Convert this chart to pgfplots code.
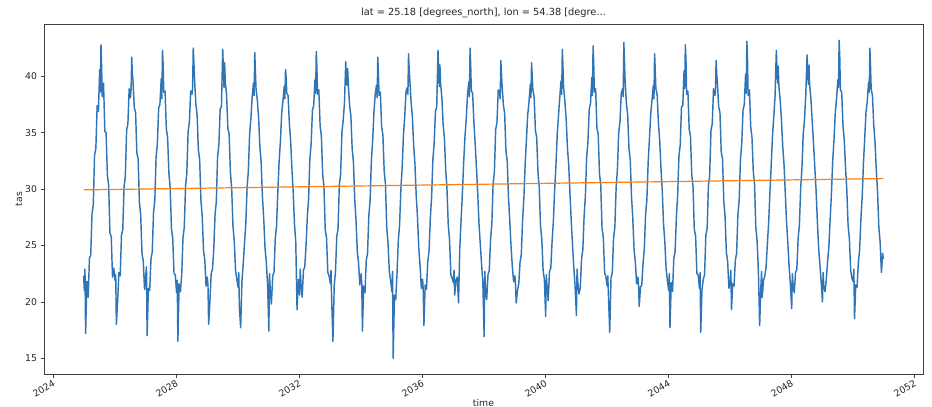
\documentclass[border=0pt]{standalone}
\usepackage{fontspec}
\setmainfont{DejaVu Sans}
\usepackage{pgfplots}
\pgfplotsset{compat=1.18}
\definecolor{mplblue}{HTML}{2F75B5}
\definecolor{mplorange}{HTML}{FF7F0E}
\begin{document}
\begin{tikzpicture}
\begin{axis}[
    scale only axis,
    width=879pt, height=350pt,
    xmin=2023.71, xmax=2052.29,
    ymin=13.6, ymax=44.64,
    xtick={2024,2028,...,2052},
    ytick={15,20,...,40},
    /pgf/number format/1000 sep={},
    /pgf/number format/assume math mode=true,
    tick pos=left, tick align=outside,
    major tick length=3.5pt,
    tick style={black!75, line width=0.6pt},
    axis line style={black!75, line width=0.6pt},
    ticklabel style={font=\fontsize{9.3}{11}\selectfont, black!85},
    xticklabel style={rotate=30, anchor=north east, inner sep=1.5pt},
    xlabel={time}, ylabel={tas},
    label style={font=\fontsize{9.3}{11}\selectfont, black!85},
    xlabel style={yshift=4pt},
    ylabel style={yshift=-4pt},
    title={lat = 25.18 [degrees\_north], lon = 54.38 [degre...},
    title style={font=\fontsize{9.8}{11}\selectfont, black!85, yshift=-3pt},
    clip=true,
]
\addplot[mplblue, line width=1.45pt, line join=round] coordinates {
(2025.000,22.3)(2025.021,21.0)(2025.042,22.9)(2025.063,17.2)(2025.104,21.8)(2025.146,20.4)(2025.188,23.9)(2025.229,24.1)(2025.271,27.8)(2025.313,28.6)(2025.354,33.0)(2025.396,33.6)(2025.438,37.4)(2025.479,36.9)(2025.521,40.6)(2025.542,38.6)(2025.563,42.8)(2025.583,40.9)(2025.604,38.2)(2025.646,39.4)(2025.688,35.1)(2025.729,35.0)(2025.771,31.2)(2025.813,30.3)(2025.854,26.1)(2025.896,25.8)(2025.938,22.2)(2025.979,23.0)
(2026.021,21.9)(2026.042,22.4)(2026.063,18.0)(2026.104,20.1)(2026.146,22.6)(2026.188,22.3)(2026.229,25.9)(2026.271,26.4)(2026.313,30.2)(2026.354,31.1)(2026.396,35.2)(2026.438,35.8)(2026.479,38.9)(2026.521,38.1)(2026.542,38.9)(2026.563,41.7)(2026.583,40.2)(2026.604,39.6)(2026.646,37.2)(2026.688,36.8)(2026.729,33.2)(2026.771,32.7)(2026.813,28.8)(2026.854,27.7)(2026.896,24.3)(2026.938,23.6)(2026.979,21.1)
(2027.021,22.4)(2027.042,23.1)(2027.063,17.0)(2027.104,21.2)(2027.146,21.0)(2027.188,23.8)(2027.229,24.4)(2027.271,27.9)(2027.313,29.0)(2027.354,32.8)(2027.396,34.0)(2027.438,37.2)(2027.479,37.5)(2027.521,39.8)(2027.542,38.0)(2027.563,42.3)(2027.583,41.1)(2027.604,38.6)(2027.646,38.7)(2027.688,35.3)(2027.729,34.6)(2027.771,31.4)(2027.813,30.1)(2027.854,26.5)(2027.896,25.6)(2027.938,22.5)(2027.979,22.4)
(2028.021,20.8)(2028.042,21.9)(2028.063,16.5)(2028.104,21.6)(2028.146,20.9)(2028.188,22.4)(2028.229,25.7)(2028.271,26.6)(2028.313,30.3)(2028.354,31.4)(2028.396,35.1)(2028.438,36.0)(2028.479,38.7)(2028.521,38.4)(2028.542,39.0)(2028.563,42.5)(2028.583,41.3)(2028.604,39.8)(2028.646,37.6)(2028.688,36.6)(2028.729,33.5)(2028.771,32.6)(2028.813,29.0)(2028.854,27.6)(2028.896,24.6)(2028.938,23.7)(2028.979,21.4)
(2029.021,22.2)(2029.042,21.4)(2029.063,18.0)(2029.104,20.0)(2029.146,22.5)(2029.188,22.9)(2029.229,24.6)(2029.271,27.7)(2029.313,28.9)(2029.354,32.9)(2029.396,33.9)(2029.438,37.1)(2029.479,37.3)(2029.521,42.4)(2029.542,40.6)(2029.563,39.0)(2029.583,41.2)(2029.604,39.5)(2029.646,38.4)(2029.688,35.4)(2029.729,34.9)(2029.771,31.5)(2029.813,30.0)(2029.854,26.7)(2029.896,25.4)(2029.938,22.8)(2029.979,22.0)
(2030.021,21.3)(2030.042,22.6)(2030.063,19.5)(2030.104,17.7)(2030.146,21.8)(2030.188,23.4)(2030.229,25.2)(2030.271,26.9)(2030.313,30.1)(2030.354,31.6)(2030.396,34.9)(2030.438,36.3)(2030.479,38.2)(2030.521,39.4)(2030.542,38.3)(2030.563,42.1)(2030.583,40.5)(2030.604,38.9)(2030.646,37.9)(2030.688,36.3)(2030.729,33.8)(2030.771,32.3)(2030.813,29.3)(2030.854,27.4)(2030.896,24.8)(2030.938,23.5)(2030.979,21.6)
(2031.021,17.4)(2031.042,22.5)(2031.063,21.2)(2031.104,19.8)(2031.146,22.3)(2031.188,22.6)(2031.229,25.6)(2031.271,26.7)(2031.313,29.8)(2031.354,32.4)(2031.396,34.2)(2031.438,36.7)(2031.479,37.8)(2031.521,39.1)(2031.542,38.0)(2031.563,40.6)(2031.583,39.9)(2031.604,38.5)(2031.646,38.3)(2031.688,35.8)(2031.729,34.3)(2031.771,31.8)(2031.813,29.7)(2031.854,26.9)(2031.896,25.3)(2031.938,19.3)(2031.979,22.0)
(2032.021,20.6)(2032.042,22.9)(2032.063,21.7)(2032.104,20.4)(2032.146,22.8)(2032.188,23.1)(2032.229,24.9)(2032.271,27.5)(2032.313,29.1)(2032.354,32.7)(2032.396,34.0)(2032.438,37.0)(2032.479,37.4)(2032.521,39.7)(2032.542,38.5)(2032.563,42.2)(2032.583,40.8)(2032.604,38.4)(2032.646,38.8)(2032.688,35.6)(2032.729,34.7)(2032.771,31.3)(2032.813,30.2)(2032.854,26.4)(2032.896,25.7)(2032.938,22.6)(2032.979,22.3)
(2033.021,21.6)(2033.042,22.8)(2033.063,20.2)(2033.104,16.5)(2033.146,21.4)(2033.188,22.7)(2033.229,25.8)(2033.271,26.5)(2033.313,30.4)(2033.354,31.3)(2033.396,35.0)(2033.438,36.1)(2033.479,37.6)(2033.521,41.3)(2033.542,39.6)(2033.563,39.2)(2033.583,40.7)(2033.604,39.3)(2033.646,37.4)(2033.688,36.5)(2033.729,33.6)(2033.771,32.4)(2033.813,29.1)(2033.854,27.3)(2033.896,24.5)(2033.938,23.4)(2033.979,21.5)
(2034.021,22.5)(2034.042,21.6)(2034.063,17.4)(2034.104,21.4)(2034.146,20.8)(2034.188,23.7)(2034.229,24.3)(2034.271,27.6)(2034.313,29.0)(2034.354,32.5)(2034.396,34.3)(2034.438,36.8)(2034.479,38.4)(2034.521,39.2)(2034.542,38.1)(2034.563,41.7)(2034.583,40.3)(2034.604,38.3)(2034.646,38.6)(2034.688,35.5)(2034.729,34.8)(2034.771,31.6)(2034.813,30.4)(2034.854,26.6)(2034.896,25.2)(2034.938,22.7)(2034.979,21.9)
(2035.021,20.9)(2035.042,22.7)(2035.063,15.0)(2035.104,20.6)(2035.146,20.2)(2035.188,22.5)(2035.229,25.4)(2035.271,26.8)(2035.313,30.0)(2035.354,31.8)(2035.396,34.7)(2035.438,36.4)(2035.479,38.6)(2035.521,39.0)(2035.542,38.4)(2035.563,42.0)(2035.583,40.6)(2035.604,39.7)(2035.646,37.7)(2035.688,36.4)(2035.729,33.9)(2035.771,32.2)(2035.813,29.4)(2035.854,27.5)(2035.896,24.7)(2035.938,23.2)(2035.979,21.2)
(2036.021,22.0)(2036.042,20.9)(2036.063,17.9)(2036.104,21.5)(2036.146,21.1)(2036.188,23.6)(2036.229,24.5)(2036.271,27.4)(2036.313,29.3)(2036.354,32.6)(2036.396,34.1)(2036.438,36.9)(2036.479,37.3)(2036.521,42.3)(2036.542,40.8)(2036.563,39.1)(2036.583,41.0)(2036.604,39.4)(2036.646,38.1)(2036.688,35.7)(2036.729,34.5)(2036.771,31.7)(2036.813,30.0)(2036.854,26.8)(2036.896,25.5)(2036.938,22.4)(2036.979,22.1)
(2037.021,21.7)(2037.042,22.8)(2037.063,20.6)(2037.104,21.9)(2037.146,22.2)(2037.188,19.9)(2037.229,24.8)(2037.271,27.2)(2037.313,29.6)(2037.354,32.3)(2037.396,34.6)(2037.438,36.2)(2037.479,38.3)(2037.521,39.5)(2037.542,38.2)(2037.563,42.5)(2037.583,41.1)(2037.604,38.7)(2037.646,38.5)(2037.688,35.9)(2037.729,34.0)(2037.771,31.9)(2037.813,29.6)(2037.854,26.9)(2037.896,25.1)(2037.938,23.3)(2037.979,21.7)
(2038.021,16.9)(2038.042,22.7)(2038.063,21.3)(2038.104,20.2)(2038.146,22.4)(2038.188,22.8)(2038.229,25.5)(2038.271,26.9)(2038.313,30.5)(2038.354,31.5)(2038.396,35.3)(2038.438,35.9)(2038.479,38.8)(2038.521,38.6)(2038.542,38.0)(2038.563,41.4)(2038.583,40.4)(2038.604,39.2)(2038.646,37.5)(2038.688,36.7)(2038.729,33.4)(2038.771,32.5)(2038.813,29.2)(2038.854,27.2)(2038.896,24.9)(2038.938,23.1)(2038.979,21.8)
(2039.021,22.3)(2039.042,21.5)(2039.063,19.9)(2039.104,21.0)(2039.146,21.6)(2039.188,23.5)(2039.229,24.2)(2039.271,27.3)(2039.313,29.2)(2039.354,32.2)(2039.396,34.4)(2039.438,36.6)(2039.479,37.7)(2039.521,39.3)(2039.542,38.1)(2039.563,41.2)(2039.583,40.1)(2039.604,38.8)(2039.646,38.2)(2039.688,35.2)(2039.729,34.6)(2039.771,31.5)(2039.813,30.1)(2039.854,26.7)(2039.896,25.6)(2039.938,22.8)(2039.979,22.0)
(2040.021,18.7)(2040.042,22.4)(2040.063,21.5)(2040.104,20.1)(2040.146,22.7)(2040.188,23.0)(2040.229,25.3)(2040.271,27.1)(2040.313,29.9)(2040.354,32.0)(2040.396,34.8)(2040.438,36.5)(2040.479,38.1)(2040.521,39.6)(2040.542,38.4)(2040.563,42.4)(2040.583,40.9)(2040.604,39.0)(2040.646,37.8)(2040.688,36.2)(2040.729,33.7)(2040.771,32.1)(2040.813,29.5)(2040.854,27.1)(2040.896,25.0)(2040.938,23.0)(2040.979,21.3)
(2041.021,18.8)(2041.042,22.9)(2041.063,21.8)(2041.104,20.7)(2041.146,21.2)(2041.188,23.8)(2041.229,24.6)(2041.271,27.6)(2041.313,29.4)(2041.354,32.8)(2041.396,34.2)(2041.438,37.1)(2041.479,37.6)(2041.521,39.9)(2041.542,38.3)(2041.563,42.7)(2041.583,41.2)(2041.604,38.6)(2041.646,38.9)(2041.688,35.4)(2041.729,34.9)(2041.771,31.4)(2041.813,30.3)(2041.854,26.5)(2041.896,25.7)(2041.938,22.6)(2041.979,22.2)
(2042.021,21.4)(2042.042,22.3)(2042.063,20.5)(2042.104,17.3)(2042.146,22.1)(2042.188,22.6)(2042.229,25.7)(2042.271,26.6)(2042.313,30.2)(2042.354,31.7)(2042.396,35.0)(2042.438,36.0)(2042.479,38.5)(2042.521,38.9)(2042.542,38.2)(2042.563,43.0)(2042.583,41.4)(2042.604,39.6)(2042.646,37.6)(2042.688,36.6)(2042.729,33.6)(2042.771,32.6)(2042.813,29.3)(2042.854,27.4)(2042.896,24.6)(2042.938,23.5)(2042.979,21.6)
(2043.021,22.2)(2043.042,21.4)(2043.063,19.6)(2043.104,21.3)(2043.146,21.5)(2043.188,23.4)(2043.229,24.7)(2043.271,27.8)(2043.313,29.1)(2043.354,32.4)(2043.396,34.5)(2043.438,36.7)(2043.479,37.9)(2043.521,39.2)(2043.542,38.0)(2043.563,42.0)(2043.583,40.6)(2043.604,38.9)(2043.646,38.4)(2043.688,35.8)(2043.729,34.3)(2043.771,31.8)(2043.813,29.8)(2043.854,26.9)(2043.896,25.3)(2043.938,22.9)(2043.979,21.9)
(2044.021,21.0)(2044.042,22.5)(2044.063,17.7)(2044.104,21.7)(2044.146,20.9)(2044.188,23.9)(2044.229,24.4)(2044.271,27.5)(2044.313,29.5)(2044.354,32.9)(2044.396,33.9)(2044.438,37.3)(2044.479,37.4)(2044.521,40.5)(2044.542,38.9)(2044.563,42.8)(2044.583,41.5)(2044.604,38.4)(2044.646,38.7)(2044.688,35.3)(2044.729,34.7)(2044.771,31.3)(2044.813,30.2)(2044.854,26.4)(2044.896,25.9)(2044.938,22.5)(2044.979,22.4)
(2045.021,21.2)(2045.042,22.6)(2045.063,17.3)(2045.104,21.1)(2045.146,22.0)(2045.188,22.4)(2045.229,25.9)(2045.271,26.5)(2045.313,30.3)(2045.354,31.2)(2045.396,35.2)(2045.438,35.8)(2045.479,38.9)(2045.521,38.3)(2045.542,38.7)(2045.563,41.4)(2045.583,40.2)(2045.604,39.5)(2045.646,37.3)(2045.688,36.8)(2045.729,33.3)(2045.771,32.7)(2045.813,28.9)(2045.854,27.6)(2045.896,24.4)(2045.938,23.6)(2045.979,21.2)
(2046.021,21.9)(2046.042,22.8)(2046.063,19.3)(2046.104,21.6)(2046.146,21.4)(2046.188,23.7)(2046.229,24.3)(2046.271,27.7)(2046.313,29.0)(2046.354,32.6)(2046.396,34.0)(2046.438,37.0)(2046.479,37.5)(2046.521,40.2)(2046.542,38.5)(2046.563,43.1)(2046.583,41.6)(2046.604,38.3)(2046.646,38.8)(2046.688,35.5)(2046.729,34.6)(2046.771,31.6)(2046.813,30.4)(2046.854,26.6)(2046.896,25.4)(2046.938,22.7)(2046.979,17.9)
(2047.021,21.5)(2047.042,22.7)(2047.063,20.4)(2047.104,21.9)(2047.146,22.3)(2047.188,23.1)(2047.229,25.1)(2047.271,27.0)(2047.313,29.7)(2047.354,32.1)(2047.396,34.7)(2047.438,36.4)(2047.479,38.2)(2047.521,42.3)(2047.542,40.7)(2047.563,39.4)(2047.583,40.9)(2047.604,39.1)(2047.646,37.9)(2047.688,36.1)(2047.729,33.8)(2047.771,32.2)(2047.813,29.6)(2047.854,27.0)(2047.896,25.2)(2047.938,23.1)(2047.979,21.5)
(2048.021,19.4)(2048.042,22.5)(2048.063,21.6)(2048.104,20.8)(2048.146,22.6)(2048.188,22.9)(2048.229,25.6)(2048.271,26.8)(2048.313,30.1)(2048.354,31.9)(2048.396,34.9)(2048.438,36.2)(2048.479,38.4)(2048.521,41.9)(2048.542,40.3)(2048.563,39.3)(2048.583,41.0)(2048.604,39.2)(2048.646,38.0)(2048.688,36.0)(2048.729,34.1)(2048.771,32.0)(2048.813,29.9)(2048.854,27.2)(2048.896,24.8)(2048.938,23.3)(2048.979,21.8)
(2049.021,20.0)(2049.042,22.6)(2049.063,21.4)(2049.104,20.9)(2049.146,22.0)(2049.188,23.6)(2049.229,24.9)(2049.271,27.3)(2049.313,29.6)(2049.354,32.5)(2049.396,34.4)(2049.438,36.8)(2049.479,38.0)(2049.521,39.7)(2049.542,39.0)(2049.563,43.2)(2049.583,41.8)(2049.604,38.8)(2049.646,38.6)(2049.688,35.6)(2049.729,34.4)(2049.771,31.9)(2049.813,29.9)(2049.854,26.8)(2049.896,25.6)(2049.938,22.8)(2049.979,22.1)
(2050.021,21.8)(2050.042,22.9)(2050.063,18.5)(2050.104,21.5)(2050.146,21.3)(2050.188,23.5)(2050.229,24.6)(2050.271,27.4)(2050.313,29.3)(2050.354,32.3)(2050.396,34.6)(2050.438,36.9)(2050.479,37.8)(2050.521,39.5)(2050.542,38.6)(2050.563,42.5)(2050.583,41.0)(2050.604,38.9)(2050.646,38.3)(2050.688,35.7)(2050.729,34.2)(2050.771,31.7)(2050.813,29.7)(2050.854,26.6)(2050.896,25.3)(2050.938,22.6)(2050.979,24.3)(2050.997,23.8)
};
\addplot[mplorange, line width=1.2pt] coordinates {(2025.0,29.93)(2051.0,30.93)};
\end{axis}
\pgfresetboundingbox
\path ([xshift=-44pt,yshift=-33pt]current axis.south west) rectangle ([xshift=9pt,yshift=24pt]current axis.north east);
\end{tikzpicture}
\end{document}
